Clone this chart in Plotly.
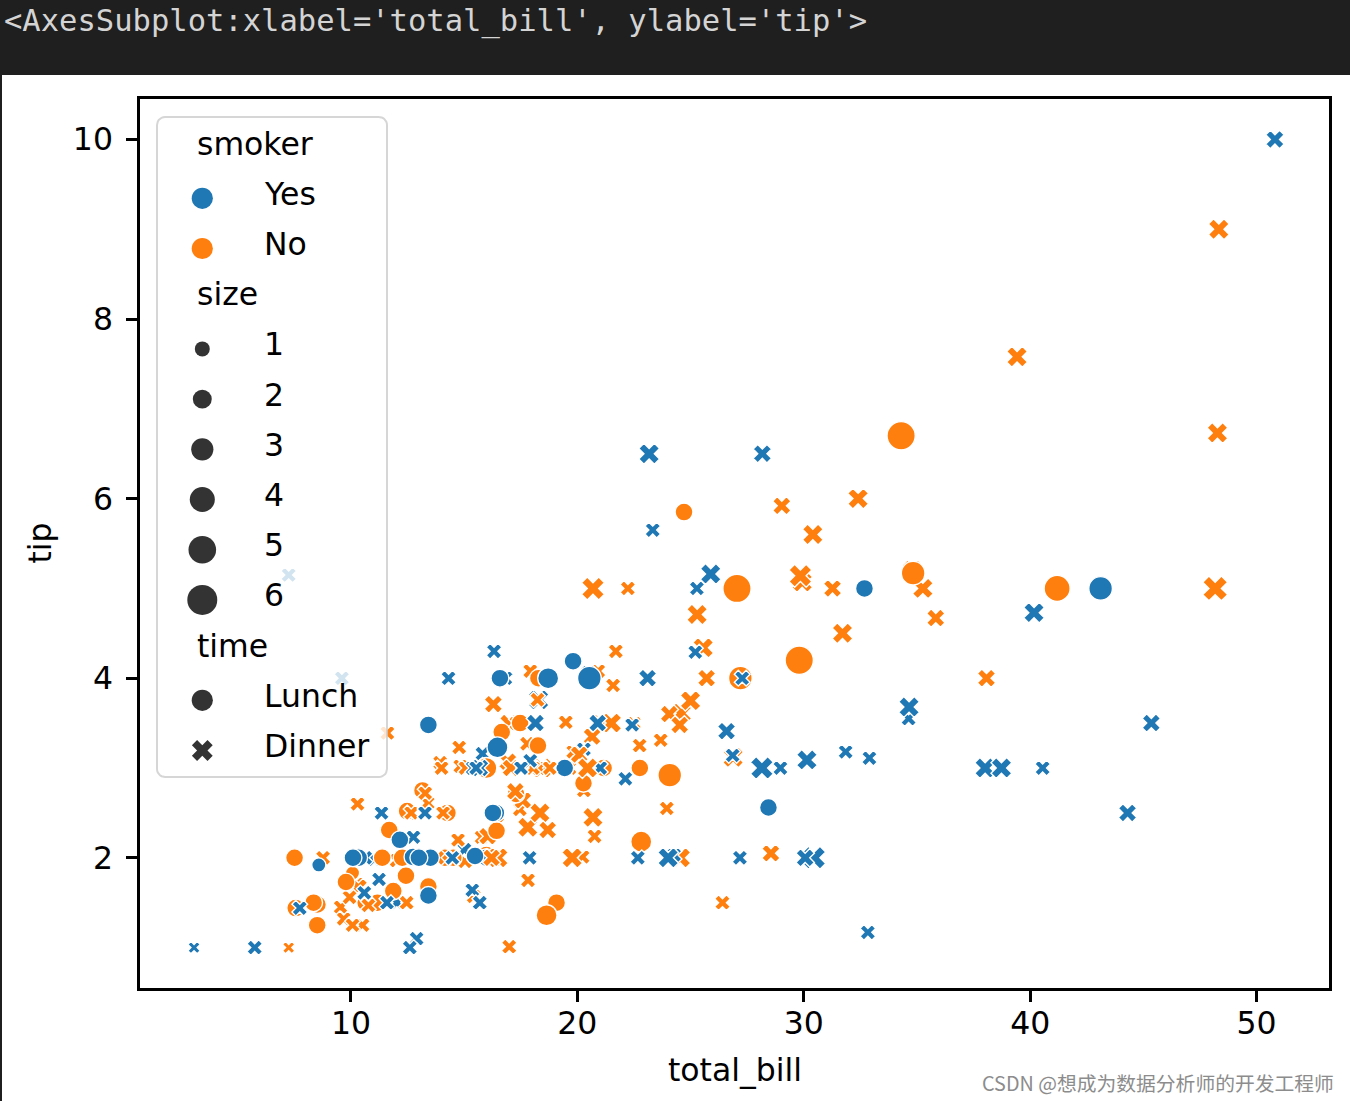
import numpy as np
import plotly.graph_objects as go

# ---------------- data (seaborn "tips") ----------------
total_bill = [
    16.99, 10.34, 21.01, 23.68, 24.59, 25.29, 8.77, 26.88, 15.04, 14.78,
    10.27, 35.26, 15.42, 18.43, 14.83, 21.58, 10.33, 16.29, 16.97, 20.65,
    17.92, 20.29, 15.77, 39.42, 19.82, 17.81, 13.37, 12.69, 21.70, 19.65,
    9.55, 18.35, 15.06, 20.69, 17.78, 24.06, 16.31, 16.93, 18.69, 31.27,
    16.04, 17.46, 13.94, 9.68, 30.40, 18.29, 22.23, 32.40, 28.55, 18.04,
    12.54, 10.29, 34.81, 9.94, 25.56, 19.49, 38.01, 26.41, 11.24, 48.27,
    20.29, 13.81, 11.02, 18.29, 17.59, 20.08, 16.45, 3.07, 20.23, 15.01,
    12.02, 17.07, 26.86, 25.28, 14.73, 10.51, 17.92, 27.20, 22.76, 17.29,
    19.44, 16.66, 10.07, 32.68, 15.98, 34.83, 13.03, 18.28, 24.71, 21.16,
    28.97, 22.49, 5.75, 16.32, 22.75, 40.17, 27.28, 12.03, 21.01, 12.46,
    11.35, 15.38, 44.30, 22.42, 20.92, 15.36, 20.49, 25.21, 18.24, 14.31,
    14.00, 7.25, 38.07, 23.95, 25.71, 17.31, 29.93, 10.65, 12.43, 24.08,
    11.69, 13.42, 14.26, 15.95, 12.48, 29.80, 8.52, 14.52, 11.38, 22.82,
    19.08, 20.27, 11.17, 12.26, 18.26, 8.51, 10.33, 14.15, 16.00, 13.16,
    17.47, 34.30, 41.19, 27.05, 16.43, 8.35, 18.64, 11.87, 9.78, 7.51,
    14.07, 13.13, 17.26, 24.55, 19.77, 29.85, 48.17, 25.00, 13.39, 16.49,
    21.50, 12.66, 16.21, 13.81, 17.51, 24.52, 20.76, 31.71, 10.59, 10.63,
    50.81, 15.81, 7.25, 31.85, 16.82, 32.90, 17.89, 14.48, 9.60, 34.63,
    34.65, 23.33, 45.35, 23.17, 40.55, 20.69, 20.90, 30.46, 18.15, 23.10,
    15.69, 19.81, 28.44, 15.48, 16.58, 7.56, 10.34, 43.11, 13.00, 13.51,
    18.71, 12.74, 13.00, 16.40, 20.53, 16.47, 26.59, 38.73, 24.27, 12.76,
    30.06, 25.89, 48.33, 13.27, 28.17, 12.90, 28.15, 11.59, 7.74, 30.14,
    12.16, 13.42, 8.58, 15.98, 13.42, 16.27, 10.09, 20.45, 13.28, 22.12,
    24.01, 15.69, 11.61, 10.77, 15.53, 10.07, 12.60, 32.83, 35.83, 29.03,
    27.18, 22.67, 17.82, 18.78,
]

tip = [
    1.01, 1.66, 3.50, 3.31, 3.61, 4.71, 2.00, 3.12, 1.96, 3.23,
    1.71, 5.00, 1.57, 3.00, 3.02, 3.92, 1.67, 3.71, 3.50, 3.35,
    4.08, 2.75, 2.23, 7.58, 3.18, 2.34, 2.00, 2.00, 4.30, 3.00,
    1.45, 2.50, 3.00, 2.45, 3.27, 3.60, 2.00, 3.07, 2.31, 5.00,
    2.24, 2.54, 3.06, 1.32, 5.60, 3.00, 5.00, 6.00, 2.05, 3.00,
    2.50, 2.60, 5.20, 1.56, 4.34, 3.51, 3.00, 1.50, 1.76, 6.73,
    3.21, 2.00, 1.98, 3.76, 2.64, 3.15, 2.47, 1.00, 2.01, 2.09,
    1.97, 3.00, 3.14, 5.00, 2.20, 1.25, 3.08, 4.00, 3.00, 2.71,
    3.00, 3.40, 1.83, 5.00, 2.03, 5.17, 2.00, 4.00, 5.85, 3.00,
    3.00, 3.50, 1.00, 4.30, 3.25, 4.73, 4.00, 1.50, 3.00, 1.50,
    2.50, 3.00, 2.50, 3.48, 4.08, 1.64, 4.06, 4.29, 3.76, 4.00,
    3.00, 1.00, 4.00, 2.55, 4.00, 3.50, 5.07, 1.50, 1.80, 2.92,
    2.31, 1.68, 2.50, 2.00, 2.52, 4.20, 1.48, 2.00, 2.00, 2.18,
    1.50, 2.83, 1.50, 2.00, 3.25, 1.25, 2.00, 2.00, 2.00, 2.75,
    3.50, 6.70, 5.00, 5.00, 2.30, 1.50, 1.36, 1.63, 1.73, 2.00,
    2.50, 2.00, 2.74, 2.00, 2.00, 5.14, 5.00, 3.75, 2.61, 2.00,
    3.50, 2.50, 2.00, 2.00, 3.00, 3.48, 2.24, 4.50, 1.61, 2.00,
    10.00, 3.16, 5.15, 3.18, 4.00, 3.11, 2.00, 2.00, 4.00, 3.55,
    3.68, 5.65, 3.50, 6.50, 3.00, 5.00, 3.50, 2.00, 3.50, 4.00,
    1.50, 4.19, 2.56, 2.02, 4.00, 1.44, 2.00, 5.00, 2.00, 2.00,
    4.00, 2.01, 2.00, 2.50, 4.00, 3.23, 3.41, 3.00, 2.03, 2.23,
    2.00, 5.16, 9.00, 2.50, 6.50, 1.10, 3.00, 1.50, 1.44, 3.09,
    2.20, 3.48, 1.92, 3.00, 1.58, 2.50, 2.00, 3.00, 2.72, 2.88,
    2.00, 3.00, 3.39, 1.47, 3.00, 1.25, 1.00, 1.17, 4.67, 5.92,
    2.00, 2.00, 1.75, 3.00,
]

smoker = (
    "No No No No No No No No No No "
    "No No No No No No No No No No "
    "No No No No No No No No No No "
    "No No No No No No No No No No "
    "No No No No No No No No No No "
    "No No No No No No Yes No Yes No "
    "Yes Yes Yes Yes No No No Yes No Yes "
    "No No Yes Yes No No Yes No No No "
    "Yes No No Yes No No No No No No "
    "Yes No Yes Yes No Yes Yes Yes Yes No "
    "Yes Yes Yes Yes No Yes Yes Yes No Yes "
    "No No No No No No No No No No "
    "No No No No No No No No No No "
    "No No No No No No No No Yes No "
    "No No No No No No No No No No "
    "No No No No No No No No No No "
    "No No No No Yes No No No Yes Yes "
    "Yes Yes Yes Yes Yes Yes Yes Yes Yes Yes "
    "Yes Yes Yes Yes Yes No Yes Yes Yes Yes "
    "Yes Yes Yes Yes Yes No Yes Yes Yes Yes "
    "Yes Yes Yes Yes Yes Yes Yes Yes Yes Yes "
    "Yes Yes No Yes Yes Yes Yes Yes Yes Yes "
    "Yes Yes Yes No Yes Yes Yes No No Yes "
    "Yes Yes No No Yes No Yes Yes No No "
    "Yes Yes No No"
).split()

time = (
    "Dinner " * 70
    + "Dinner Dinner Dinner Dinner Dinner Dinner Dinner Lunch Lunch Lunch "
    + "Lunch " * 10
    + "Dinner " * 20
    + "Dinner Dinner Dinner Dinner Dinner Dinner Dinner Lunch Lunch Lunch "
    + "Lunch " * 30
    + "Dinner " * 40
    + "Dinner Lunch Lunch Lunch Lunch Lunch Lunch Lunch Lunch Lunch "
    + "Lunch Lunch Lunch Lunch Lunch Lunch Dinner Dinner Dinner Dinner "
    + "Dinner " * 10
    + "Lunch Lunch Lunch Lunch Lunch Lunch Lunch Dinner Dinner Dinner "
    + "Dinner " * 14
).split()

size = [
    2, 3, 3, 2, 4, 4, 2, 4, 2, 2,
    2, 4, 2, 4, 2, 2, 3, 3, 3, 3,
    2, 2, 2, 4, 2, 4, 2, 2, 2, 2,
    2, 4, 2, 4, 2, 3, 3, 3, 3, 3,
    3, 2, 2, 2, 4, 2, 2, 4, 3, 2,
    2, 2, 4, 2, 4, 2, 4, 2, 2, 4,
    2, 2, 2, 4, 3, 3, 2, 1, 2, 2,
    2, 3, 2, 2, 2, 2, 2, 4, 2, 2,
    2, 2, 1, 2, 2, 4, 2, 2, 2, 2,
    2, 2, 2, 2, 2, 4, 2, 2, 2, 2,
    2, 2, 3, 2, 2, 2, 2, 2, 2, 2,
    2, 1, 3, 2, 3, 2, 4, 2, 2, 4,
    2, 2, 2, 2, 2, 6, 2, 2, 2, 3,
    2, 2, 2, 2, 2, 2, 2, 2, 2, 2,
    2, 6, 5, 6, 2, 2, 3, 2, 2, 2,
    2, 2, 3, 4, 4, 5, 6, 4, 2, 4,
    4, 2, 3, 2, 2, 3, 2, 4, 2, 2,
    3, 2, 2, 2, 2, 2, 2, 2, 2, 2,
    4, 2, 3, 4, 2, 5, 3, 5, 3, 3,
    2, 2, 2, 2, 2, 2, 2, 4, 2, 2,
    3, 2, 2, 2, 4, 3, 3, 4, 2, 2,
    3, 4, 4, 2, 3, 2, 5, 2, 2, 4,
    2, 2, 1, 3, 2, 2, 2, 4, 2, 2,
    4, 3, 2, 2, 2, 2, 2, 2, 3, 3,
    2, 2, 2, 2,
]

smoker_levels = ["Yes", "No"]
size_levels = [1, 2, 3, 4, 5, 6]
time_levels = ["Lunch", "Dinner"]
x_ticks = [10, 20, 30, 40, 50]
y_ticks = [2, 4, 6, 8, 10]
x_label = "total_bill"
y_label = "tip"
header_text = "<AxesSubplot:xlabel='total_bill', ylabel='tip'>"
watermark = "CSDN @想成为数据分析师的开发工程师"

# ---------------- styles ----------------
W_FIG, H_FIG = 1350, 1101
L, R, T, B = 140, 1329, 99, 988          # plot-area pixel box
PXPT = 3.33                               # screen px per matplotlib point
FONT = "DejaVu Sans"
FS = 31.5
palette = {"Yes": "#1f77b4", "No": "#ff7f0e"}
symbol_map = {"Lunch": "circle", "Dinner": "x"}
X_SCALE = 0.78                            # plotly 'x' glyph is wider than mpl 'X'


def size_to_px(k):
    smin, smax = min(size_levels), max(size_levels)
    area = 18 + (k - smin) / (smax - smin) * (72 - 18)   # seaborn default size range (pt^2)
    return np.sqrt(area) * PXPT


def padded(vals):
    lo, hi = min(vals), max(vals)
    m = 0.05 * (hi - lo)
    return [lo - m, hi + m]


colors = [palette[s] for s in smoker]
symbols = [symbol_map[t] for t in time]
msizes = [size_to_px(k) * (X_SCALE if t == "Dinner" else 1.0) for k, t in zip(size, time)]

fig = go.Figure()

fig.add_trace(go.Scatter(
    x=total_bill, y=tip, mode="markers",
    marker=dict(color=colors, symbol=symbols, size=msizes,
                line=dict(color="white", width=1.4), opacity=1),
    hoverinfo="skip", showlegend=False,
))

# ---------------- legend (drawn on pixel-unit overlay axes) ----------------
LX0, LX1, LY0, LY1, RAD = 157, 387, 117, 777, 8
ts = []
for cx, cy, a0 in [(LX1 - RAD, LY0 + RAD, -90), (LX1 - RAD, LY1 - RAD, 0),
                   (LX0 + RAD, LY1 - RAD, 90), (LX0 + RAD, LY0 + RAD, 180)]:
    ang = np.radians(np.linspace(a0, a0 + 90, 8))
    ts.append((cx + RAD * np.cos(ang), cy + RAD * np.sin(ang)))
bx = np.concatenate([t[0] for t in ts] + [[ts[0][0][0]]])
by = np.concatenate([t[1] for t in ts] + [[ts[0][1][0]]])
fig.add_trace(go.Scatter(
    x=bx, y=by, mode="lines", fill="toself",
    fillcolor="rgba(255,255,255,0.8)",
    line=dict(color="rgba(204,204,204,0.8)", width=2),
    xaxis="x2", yaxis="y2", hoverinfo="skip", showlegend=False,
))

ROW0, ROWH = 148.1, 50.2
MX, TX_TITLE, TX_LABEL, TXT_OFF = 202.3, 195, 262, -4.5
DARK = "#333333"
rows = []  # (kind, text, marker symbol, marker size, color)
rows.append(("title", "smoker", None, None, None))
for s in smoker_levels:
    rows.append(("item", s, "circle", 6 * PXPT * 1.06, palette[s]))
rows.append(("title", "size", None, None, None))
for k in size_levels:
    rows.append(("item", str(k), "circle", size_to_px(k) * 1.06, DARK))
rows.append(("title", "time", None, None, None))
for t in time_levels:
    sym = symbol_map[t]
    rows.append(("item", t, sym, 6 * PXPT * (0.92 if sym == "x" else 1.06), DARK))

lmx, lmy, lms, lsym, lcol = [], [], [], [], []
annotations = []
for i, (kind, text, sym, ms, col) in enumerate(rows):
    yc = ROW0 + i * ROWH
    if kind == "item":
        lmx.append(MX); lmy.append(yc); lms.append(ms); lsym.append(sym); lcol.append(col)
    annotations.append(dict(
        x=TX_TITLE if kind == "title" else TX_LABEL, y=yc + TXT_OFF,
        xref="x2", yref="y2", text=text, showarrow=False,
        xanchor="left", yanchor="middle",
        font=dict(family=FONT, size=FS, color="black"),
    ))

# legend handles live on a third overlay so they sit above the box fill
fig.add_trace(go.Scatter(
    x=lmx, y=lmy, mode="markers",
    marker=dict(color=lcol, symbol=lsym, size=lms, line=dict(width=0), opacity=1),
    xaxis="x3", yaxis="y3", hoverinfo="skip", showlegend=False,
))


def px(x):
    return (x - L) / (R - L)


def py(y):
    return (B - y) / (B - T)


# axis titles
annotations.append(dict(x=px((L + R) / 2), y=py(1070), xref="paper", yref="paper",
                        text=x_label, showarrow=False, xanchor="center", yanchor="middle",
                        font=dict(family=FONT, size=FS, color="black")))
annotations.append(dict(x=px(39), y=py((T + B) / 2), xref="paper", yref="paper",
                        text=y_label, showarrow=False, xanchor="center", yanchor="middle",
                        textangle=-90, font=dict(family=FONT, size=FS, color="black")))
# header text (notebook output line)
annotations.append(dict(x=px(2), y=py(1), xref="paper", yref="paper",
                        text=header_text.replace("<", "&lt;").replace(">", "&gt;"),
                        showarrow=False, xanchor="left", yanchor="top",
                        font=dict(family="DejaVu Sans Mono", size=30.5, color="#d4d4d4")))
# watermark
annotations.append(dict(x=px(1336), y=py(1082), xref="paper", yref="paper",
                        text=watermark, showarrow=False, xanchor="right", yanchor="middle",
                        font=dict(family="Noto Sans CJK SC", size=19.8, color="#8c8c8c")))

shapes = [
    dict(type="rect", xref="paper", yref="paper", x0=px(0), x1=px(W_FIG), y0=py(75), y1=py(0),
         fillcolor="#1f1f1f", line=dict(width=0), layer="above"),
    dict(type="rect", xref="paper", yref="paper", x0=px(0), x1=px(2), y0=py(H_FIG), y1=py(75),
         fillcolor="#1f1f1f", line=dict(width=0), layer="above"),
]

axis_common = dict(
    showgrid=False, zeroline=False, showline=True, mirror=True,
    linecolor="black", linewidth=2.5, ticks="outside", ticklen=11,
    tickwidth=2.5, tickcolor="black",
    tickfont=dict(family=FONT, size=FS, color="black"),
)

fig.update_layout(
    width=W_FIG, height=H_FIG,
    margin=dict(l=L, r=W_FIG - R, t=T, b=H_FIG - B, pad=0),
    paper_bgcolor="white", plot_bgcolor="white",
    showlegend=False, hovermode=False,
    xaxis=dict(range=padded(total_bill), tickvals=x_ticks, ticklabelstandoff=-6, **axis_common),
    yaxis=dict(range=padded(tip), tickvals=y_ticks, ticklabelstandoff=7, **axis_common),
    xaxis2=dict(range=[L, R], overlaying="x", anchor="y2", visible=False),
    yaxis2=dict(range=[B, T], overlaying="y", anchor="x2", visible=False),
    xaxis3=dict(range=[L, R], overlaying="x", anchor="y3", visible=False),
    yaxis3=dict(range=[B, T], overlaying="y", anchor="x3", visible=False),
    annotations=annotations, shapes=shapes,
)

fig.write_html(
    "out.html",
    config={"displayModeBar": False},
    post_script="document.body.style.margin='0px';document.body.style.overflow='hidden';",
)
